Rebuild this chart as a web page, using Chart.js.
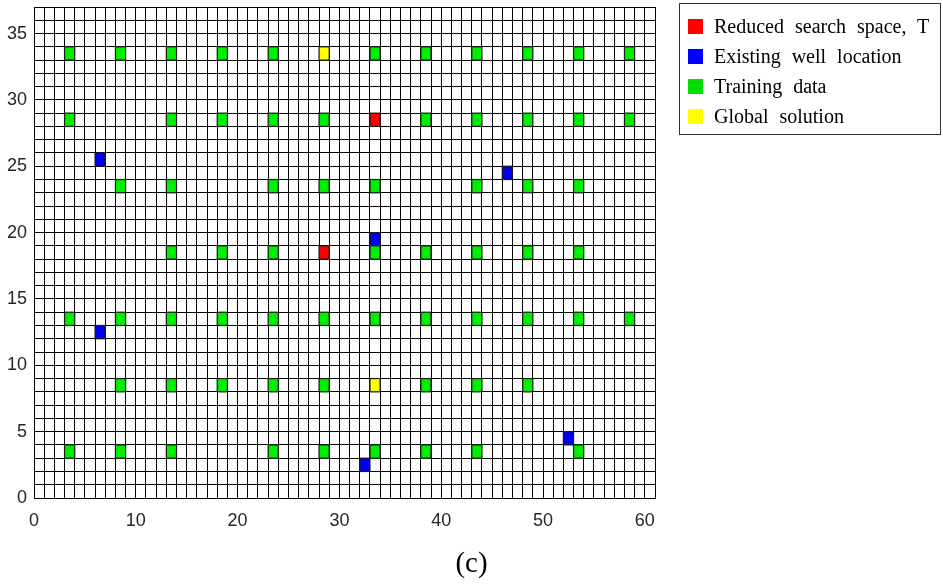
<!DOCTYPE html>
<html>
<head>
<meta charset="utf-8">
<script src="https://cdn.jsdelivr.net/npm/chart.js@4"></script>
<style>
  html, body { margin: 0; padding: 0; background: #fff; }
  #wrap { position: relative; width: 943px; height: 585px; }
  #legend {
    position: absolute; left: 679px; top: 3px; width: 262px; height: 132px;
    border: 1px solid #333; box-sizing: border-box;
    font-family: "Liberation Serif", "DejaVu Serif", serif; font-size: 20px; color: #000;
    word-spacing: 6px;
  }
  #legend .item { position: absolute; left: 8px; height: 20px; display: flex; align-items: center; }
  #legend .sw { width: 15px; height: 15px; margin-right: 11px; }
  #caption {
    position: absolute; left: 0; width: 943px; top: 546px; text-align: center;
    font-family: "Liberation Serif", "DejaVu Serif", serif; font-size: 29px;
  }
</style>
</head>
<body>
<div id="wrap">
  <canvas id="grid" width="943" height="585"></canvas>
  <div id="legend"></div>
  <div id="caption">(c)</div>
</div>
<script>
// cellules : coin inferieur gauche [x, y]
const reducedCells = [[33, 28], [28, 18]];
const wellCells = [[6, 25], [46, 24], [33, 19], [6, 12], [52, 4], [32, 2]];
const trainingCells = [
  [3, 33], [8, 33], [13, 33], [18, 33], [23, 33], [33, 33], [38, 33], [43, 33], [48, 33], [53, 33], [58, 33],
  [3, 28], [13, 28], [18, 28], [23, 28], [28, 28], [38, 28], [43, 28], [48, 28], [53, 28], [58, 28],
  [8, 23], [13, 23], [23, 23], [28, 23], [33, 23], [43, 23], [48, 23], [53, 23],
  [13, 18], [18, 18], [23, 18], [33, 18], [38, 18], [43, 18], [48, 18], [53, 18],
  [3, 13], [8, 13], [13, 13], [18, 13], [23, 13], [28, 13], [33, 13], [38, 13], [43, 13], [48, 13], [53, 13], [58, 13],
  [8, 8], [13, 8], [18, 8], [23, 8], [28, 8], [38, 8], [43, 8], [48, 8],
  [3, 3], [8, 3], [13, 3], [23, 3], [28, 3], [33, 3], [38, 3], [43, 3], [53, 3]
];
const globalCells = [[28, 33], [33, 8]];

const legendLabels = ['Reduced search space, T', 'Existing well location', 'Training data', 'Global solution'];
const legendColors = ['#ff0000', '#0000ff', '#00dd00', '#ffff00'];
const cellColors = ['#ff0000', '#0000f0', '#00ee00', '#ffff00'];

const xMax = 61, yMax = 37;

const toPoints = cells => cells.map(([x, y]) => ({ x: x + 0.5, y: y + 0.5 }));

// dessine chaque cellule comme un rectangle 1x1 via les echelles
const cellPlugin = {
  id: 'cells',
  afterDatasetsDraw(chart) {
    const { ctx, scales: { x, y } } = chart;
    chart.data.datasets.forEach(ds => {
      ctx.save();
      ctx.fillStyle = ds.backgroundColor;
      ctx.strokeStyle = '#1a1a1a';
      ctx.lineWidth = 1.2;
      ds.data.forEach(p => {
        const x0 = x.getPixelForValue(p.x - 0.5), x1 = x.getPixelForValue(p.x + 0.5);
        const y0 = y.getPixelForValue(p.y + 0.5), y1 = y.getPixelForValue(p.y - 0.5);
        ctx.fillRect(x0, y0, x1 - x0, y1 - y0);
        ctx.strokeRect(x0, y0, x1 - x0, y1 - y0);
      });
      ctx.restore();
    });
  }
};

const allCells = [reducedCells, wellCells, trainingCells, globalCells];

new Chart(document.getElementById('grid'), {
  type: 'scatter',
  data: {
    datasets: allCells.map((cells, i) => ({
      label: legendLabels[i],
      data: toPoints(cells),
      backgroundColor: cellColors[i],
      pointRadius: 0,
      pointHoverRadius: 0
    }))
  },
  options: {
    responsive: false,
    animation: false,
    events: [],
    layout: { padding: { left: 0, right: 288, top: 7, bottom: 47 } },
    plugins: { legend: { display: false }, tooltip: { enabled: false } },
    scales: {
      x: {
        type: 'linear', min: 0, max: xMax,
        afterFit: s => { s.height = 40; s.paddingLeft = 0; s.paddingRight = 0; },
        grid: { color: '#000', lineWidth: 1, drawTicks: false },
        border: { color: '#000' },
        ticks: {
          stepSize: 1, autoSkip: false, maxRotation: 0, padding: 12,
          color: '#262626', font: { family: '"Liberation Sans", Arial', size: 18 },
          callback: v => (v % 10 === 0 ? v : '')
        }
      },
      y: {
        type: 'linear', min: 0, max: yMax,
        afterFit: s => { s.width = 34; s.paddingTop = 0; s.paddingBottom = 0; },
        grid: { color: '#000', lineWidth: 1, drawTicks: false },
        border: { color: '#000' },
        ticks: {
          stepSize: 1, autoSkip: false, padding: 7,
          color: '#262626', font: { family: '"Liberation Sans", Arial', size: 18 },
          callback: v => (v % 5 === 0 ? v : '')
        }
      }
    }
  },
  plugins: [cellPlugin]
});

// legende a droite
const legend = document.getElementById('legend');
legendLabels.forEach((txt, i) => {
  const item = document.createElement('div');
  item.className = 'item';
  item.style.top = (12 + i * 30) + 'px';
  item.innerHTML = `<span class="sw" style="background:${legendColors[i]}"></span><span>${txt}</span>`;
  legend.appendChild(item);
});
</script>
</body>
</html>
